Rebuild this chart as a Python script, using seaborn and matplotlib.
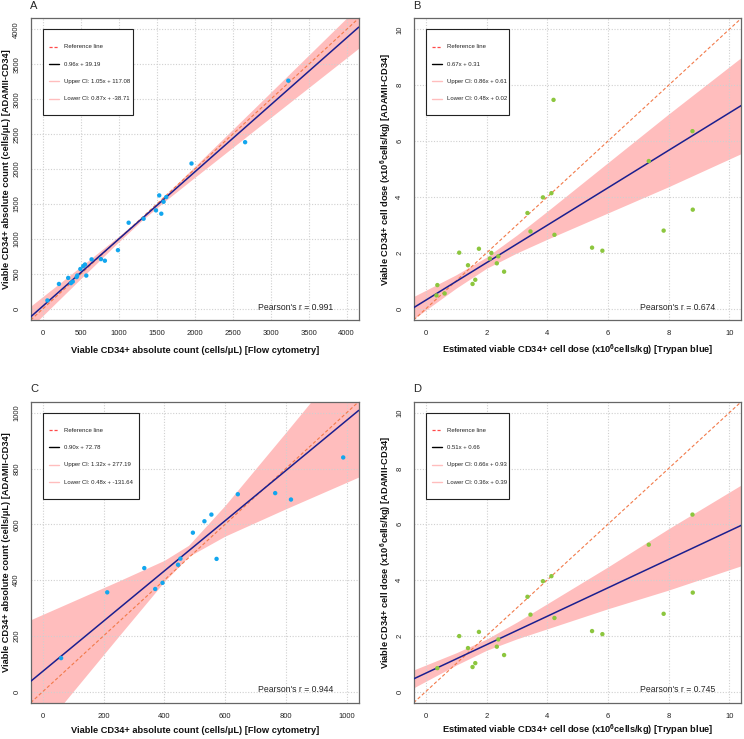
import numpy as np
import pandas as pd
import matplotlib
matplotlib.use("Agg")
import matplotlib.pyplot as plt
import seaborn as sns
from matplotlib.lines import Line2D
from matplotlib.patches import Rectangle

sns.set_style("white")
plt.rcParams["font.family"] = ["Liberation Sans", "DejaVu Sans"]
plt.rcParams["mathtext.fontset"] = "custom"
plt.rcParams["mathtext.rm"] = "Liberation Sans"
plt.rcParams["mathtext.bf"] = "Liberation Sans:bold"

# ---------------- data ----------------
# Panel A : absolute counts (cells/uL), all samples
a_flow = [60, 212, 334, 370, 394, 445, 453, 494, 532, 555, 572, 642, 765, 817, 989,
          1130, 1327, 1490, 1533, 1560, 1590, 1625, 1958, 2664, 3233]
a_adami = [120, 356, 443, 368, 390, 455, 477, 570, 611, 635, 476, 708, 712, 689, 840,
           1233, 1290, 1410, 1624, 1362, 1533, 1600, 2081, 2386, 3267]
a_fit = (0.96, 39.19)
a_legend = ["Reference line", "0.96x + 39.19", "Upper CI: 1.05x + 117.08", "Lower CI: 0.87x + -38.71"]
a_r = "Pearson's r = 0.991"
a_band_x = [-160, 500, 1000, 1300, 1600, 2000, 3000, 4160]
a_band_hw = [153, 86, 40, 25, 40, 78, 180, 301]

# Panel B : cell dose (x10^6 cells/kg), all samples
b_trypan = [0.35, 0.38, 0.62, 1.10, 1.39, 1.54, 1.63, 1.75, 2.11, 2.16, 2.34, 2.39, 2.58,
            3.35, 3.45, 3.86, 4.14, 4.21, 4.24, 5.48, 5.82, 7.35, 7.84, 8.79, 8.80]
b_adami = [0.48, 0.85, 0.55, 2.01, 1.56, 0.89, 1.04, 2.15, 1.80, 2.00, 1.63, 1.88, 1.33,
           3.43, 2.77, 3.99, 4.14, 7.48, 2.65, 2.19, 2.08, 5.29, 2.80, 6.36, 3.55]
b_fit = (0.67, 0.31)
b_legend = ["Reference line", "0.67x + 0.31", "Upper CI: 0.86x + 0.61", "Lower CI: 0.48x + 0.02"]
b_r = "Pearson's r = 0.674"
b_band_x = [-0.4, 1, 2, 3, 4, 6, 8, 10.4]
b_band_hw = [0.40, 0.24, 0.20, 0.32, 0.50, 0.90, 1.30, 1.72]

# Panel C : absolute counts, subset
c_flow = [60, 212, 334, 370, 394, 445, 453, 494, 532, 555, 572, 642, 765, 817, 989]
c_adami = [120, 356, 443, 368, 390, 455, 477, 570, 611, 635, 476, 708, 712, 689, 840]
c_fit = (0.90, 72.78)
c_legend = ["Reference line", "0.90x + 72.78", "Upper CI: 1.32x + 277.19", "Lower CI: 0.48x + -131.64"]
c_r = "Pearson's r = 0.944"
c_band_x = [-40, 100, 250, 400, 480, 600, 800, 1040]
c_band_hw = [221, 162, 99, 38, 20, 55, 137, 239]

# Panel D : cell dose, subset
d_trypan = [0.38, 1.10, 1.39, 1.54, 1.63, 1.75, 2.34, 2.39, 2.58, 3.35, 3.45, 3.86, 4.14,
            4.24, 5.48, 5.82, 7.35, 7.84, 8.79, 8.80]
d_adami = [0.84, 1.99, 1.56, 0.88, 1.02, 2.14, 1.61, 1.87, 1.31, 3.40, 2.76, 3.96, 4.14,
           2.64, 2.17, 2.06, 5.27, 2.79, 6.35, 3.55]
d_fit = (0.51, 0.66)
d_legend = ["Reference line", "0.51x + 0.66", "Upper CI: 0.66x + 0.93", "Lower CI: 0.36x + 0.39"]
d_r = "Pearson's r = 0.745"
d_band_x = [-0.4, 1, 2, 3, 4, 6, 8, 10.4]
d_band_hw = [0.32, 0.22, 0.20, 0.30, 0.45, 0.75, 1.10, 1.45]

count_ticks = list(range(0, 4001, 500))
count_ticks_c = list(range(0, 1001, 200))
dose_ticks = list(range(0, 11, 2))

xlab_count = "Viable CD34+ absolute count (cells/\u03bcL) [Flow cytometry]"
ylab_count = "Viable CD34+ absolute count (cells/\u03bcL) [ADAMII-CD34]"
xlab_dose = "Estimated viable CD34+ cell dose (x10$^{\\mathbf{6}}$cells/kg) [Trypan blue]"
ylab_dose = "Viable CD34+ cell dose (x10$^{\\mathbf{6}}$cells/kg) [ADAMII-CD34]"

BLUE = "#12a6ee"
GREEN = "#8cc63e"
BAND = "#ffbdbd"
NAVY = "#1b1f8f"
REF = "#f27a4a"

W, H = 744, 739
fig = plt.figure(figsize=(W / 100, H / 100), dpi=100)


def add_axes(l, t, r, b):
    return fig.add_axes([l / W, 1 - b / H, (r - l) / W, (b - t) / H]), (r - l), (b - t)


panels = [
    dict(box=(30.7, 18.3, 358.7, 320.0), x=a_flow, y=a_adami, fit=a_fit, leg=a_legend, r=a_r,
         bx=a_band_x, bhw=a_band_hw, lim=(0, 4000), ticks=count_ticks, color=BLUE,
         xl=xlab_count, yl=ylab_count, letter="A", legw=90),
    dict(box=(413.7, 18.3, 741.3, 320.0), x=b_trypan, y=b_adami, fit=b_fit, leg=b_legend, r=b_r,
         bx=b_band_x, bhw=b_band_hw, lim=(0, 10), ticks=dose_ticks, color=GREEN,
         xl=xlab_dose, yl=ylab_dose, letter="B", legw=83),
    dict(box=(30.7, 401.7, 358.7, 702.7), x=c_flow, y=c_adami, fit=c_fit, leg=c_legend, r=c_r,
         bx=c_band_x, bhw=c_band_hw, lim=(0, 1000), ticks=count_ticks_c, color=BLUE,
         xl=xlab_count, yl=ylab_count, letter="C", legw=96),
    dict(box=(413.7, 401.7, 741.3, 702.7), x=d_trypan, y=d_adami, fit=d_fit, leg=d_legend, r=d_r,
         bx=d_band_x, bhw=d_band_hw, lim=(0, 10), ticks=dose_ticks, color=GREEN,
         xl=xlab_dose, yl=ylab_dose, letter="D", legw=83),
]

for p in panels:
    ax, wpx, hpx = add_axes(*p["box"])
    lo, hi = p["lim"]
    ext = 0.04 * (hi - lo)
    xlo, xhi = lo - ext, hi + ext
    ax.set_xlim(xlo, xhi)
    ax.set_ylim(xlo, xhi)

    slope, icpt = p["fit"]
    bx = np.array(p["bx"], dtype=float)
    bline = slope * bx + icpt
    bhw = np.array(p["bhw"], dtype=float)
    ax.fill_between(bx, bline - bhw, bline + bhw, color=BAND, lw=0, zorder=0.3)

    ax.grid(True, ls=(0, (1, 1.5)), color="#d0d0d0", lw=0.8)
    ax.set_axisbelow(True)

    lx = np.array([xlo, xhi])
    ref = pd.DataFrame({"x": lx, "y": lx})
    sns.lineplot(data=ref, x="x", y="y", ax=ax, color=REF, lw=0.8, linestyle=(0, (3, 2)), zorder=2)
    fitdf = pd.DataFrame({"x": lx, "y": slope * lx + icpt})
    sns.lineplot(data=fitdf, x="x", y="y", ax=ax, color=NAVY, lw=1.1, zorder=3)

    pts = pd.DataFrame({"x": p["x"], "y": p["y"]})
    sns.scatterplot(data=pts, x="x", y="y", ax=ax, color=p["color"], s=10, edgecolor="none", zorder=4)

    ax.set_xticks(p["ticks"])
    ax.set_yticks(p["ticks"])
    ax.set_xticklabels([str(t) for t in p["ticks"]])
    ax.set_yticklabels([str(t) for t in p["ticks"]])
    ax.tick_params(axis="both", length=3, width=0.6, color="#666666", labelsize=5.5,
                   labelcolor="#222222", pad=4.5)
    for lbl in ax.get_yticklabels():
        lbl.set_rotation(90)
        lbl.set_va("center")
    for s in ax.spines.values():
        s.set_color("#666666")
        s.set_linewidth(0.9)

    bottom_row = p["letter"] in "CD"
    ax.set_xlabel(p["xl"], fontsize=6.7, fontweight="bold", va="center", color="#111111")
    ax.set_ylabel(p["yl"], fontsize=6.7, fontweight="bold", va="center", color="#111111")
    ax.xaxis.set_label_coords(0.5, -0.093 if bottom_row else -0.102)
    ax.yaxis.set_label_coords(-0.075 if p["letter"] in "AC" else -0.085, 0.5)

    ax.text(-0.002, 1.042, p["letter"], transform=ax.transAxes, fontsize=8, ha="left", va="center")
    ax.text(0.922, 0.043, p["r"], transform=ax.transAxes, fontsize=6.2, ha="right", va="center")

    # legend box anchored at (lo, hi) data corner
    fx = (lo - xlo) / (xhi - xlo)
    fy = (hi - xlo) / (xhi - xlo)
    bw, bh = p["legw"] / wpx, 86 / hpx
    ax.add_patch(Rectangle((fx, fy - bh), bw, bh, transform=ax.transAxes, facecolor="white",
                           edgecolor="#222222", lw=0.8, zorder=5))
    styles = [dict(color="#ff4a4a", ls=(0, (2.5, 1.5)), lw=0.9),
              dict(color="black", ls="-", lw=1.0),
              dict(color=BAND, ls="-", lw=1.0),
              dict(color=BAND, ls="-", lw=1.0)]
    for i, (lab, st) in enumerate(zip(p["leg"], styles)):
        yy = fy - 17.3 * (i + 1) / hpx
        ax.add_line(Line2D([fx + 6 / wpx, fx + 16 / wpx], [yy, yy], transform=ax.transAxes,
                           zorder=6, **st))
        ax.text(fx + 21 / wpx, yy, lab, transform=ax.transAxes, fontsize=4.35, ha="left",
                va="center", zorder=6, color="#222222")

fig.savefig("out.png", dpi=100)
